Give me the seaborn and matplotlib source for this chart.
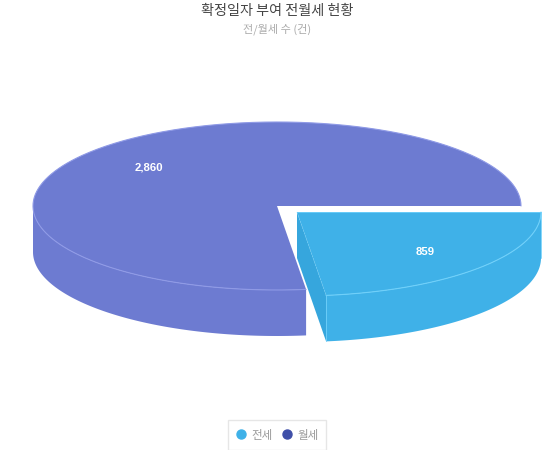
import numpy as np
import pandas as pd
import matplotlib
matplotlib.use("Agg")
import matplotlib.pyplot as plt
from matplotlib.lines import Line2D
from matplotlib.patches import Polygon
import seaborn as sns

categories = ["전세", "월세"]
values = [859, 2860]
legend_colors = ["#3fb1e8", "#3f4fa8"]
title = "확정일자 부여 전월세 현황"
subtitle = "전/월세 수 (건)"

sns.set_theme(style="white")
plt.rcParams["font.family"] = ["Noto Sans CJK KR", "DejaVu Sans"]

df = pd.DataFrame({"category": categories, "value": values})
df["share"] = df["value"] / df["value"].sum()
cut = df["share"][0] * 2 * np.pi

# pie geometry in pixels
rx, ry, depth = 244, 84, 46


def arc(cx, cy, a0, a1, n=200):
    t = np.linspace(a0, a1, n)
    return np.column_stack([cx + rx * np.cos(t), cy + ry * np.sin(t)])


def side(cx, cy, a0, a1):
    top = arc(cx, cy, a0, a1)
    bottom = top[::-1] + [0, depth]
    return np.vstack([top, bottom])


fig = plt.figure(figsize=(5.54, 4.5), dpi=100)
ax = fig.add_axes([0, 0, 1, 1])
ax.set_xlim(0, 554)
ax.set_ylim(450, 0)
ax.axis("off")

# 월세, the big slice
cx, cy = 277, 206
main = "#6d7bd1"
ax.add_patch(Polygon(side(cx, cy, cut, np.pi), fc=main, ec="none"))
ax.add_patch(Polygon(np.vstack([[cx, cy], arc(cx, cy, cut, 2 * np.pi, 400)]), fc=main, ec="none"))
ax.plot(*arc(cx, cy, cut, 2 * np.pi, 400).T, color="#8f9ae6", lw=0.8)

# 전세, pulled out
cx2, cy2 = 297, 212
sky = "#3fb1e8"
inner = arc(cx2, cy2, cut, cut, 1)[0]
ax.add_patch(Polygon([[cx2, cy2], inner, inner + [0, depth], [cx2, cy2 + depth]], fc="#36a6dd", ec="none"))
ax.add_patch(Polygon(side(cx2, cy2, 0, cut), fc=sky, ec="none"))
ax.add_patch(Polygon(np.vstack([[cx2, cy2], arc(cx2, cy2, 0, cut)]), fc=sky, ec="none"))
ax.plot(*arc(cx2, cy2, 0, cut).T, color="#6fd0fa", lw=0.8)
ax.plot([cx2, inner[0]], [cy2, inner[1]], color="#6fd0fa", lw=0.5, ls=(0, (2, 1.5)), alpha=0.7)
ax.plot([inner[0], inner[0]], [inner[1], inner[1] + depth], color="#6fd0fa", lw=0.6)
ax.plot([cx2, cx2 + rx], [cy2, cy2], color="#6fd0fa", lw=0.6)
ax.plot([cx2 + rx, cx2 + rx], [cy2, cy2 + depth], color="#6fd0fa", lw=0.6)

# value labels
ax.text(425, 252, f"{values[0]:,}", color="white", fontsize=8.2, fontweight="bold",
        family=["Liberation Sans", "DejaVu Sans"], ha="center", va="center")
ax.text(148.5, 167.5, f"{values[1]:,}", color="white", fontsize=8.2, fontweight="bold",
        family=["Liberation Sans", "DejaVu Sans"], ha="center", va="center")

ax.text(277, 10.5, title, color="#444444", fontsize=10.2, ha="center", va="center")
ax.text(277, 29, subtitle, color="#aaaaaa", fontsize=8, ha="center", va="center")

handles = [Line2D([], [], ls="", marker="o", ms=6.5, mfc=c, mec=c, label=n)
           for n, c in zip(categories, legend_colors)]
ax.legend(handles=handles, ncol=2, loc="center", bbox_to_anchor=(277 / 554, 1 - 435 / 450),
          frameon=True, fancybox=False, edgecolor="#e6e6e6", fontsize=8.3, labelcolor="#999999",
          handlelength=1.0, handletextpad=0.4, columnspacing=0.7, borderpad=0.7, borderaxespad=0,
          framealpha=1)

fig.savefig("out.png", dpi=100)
